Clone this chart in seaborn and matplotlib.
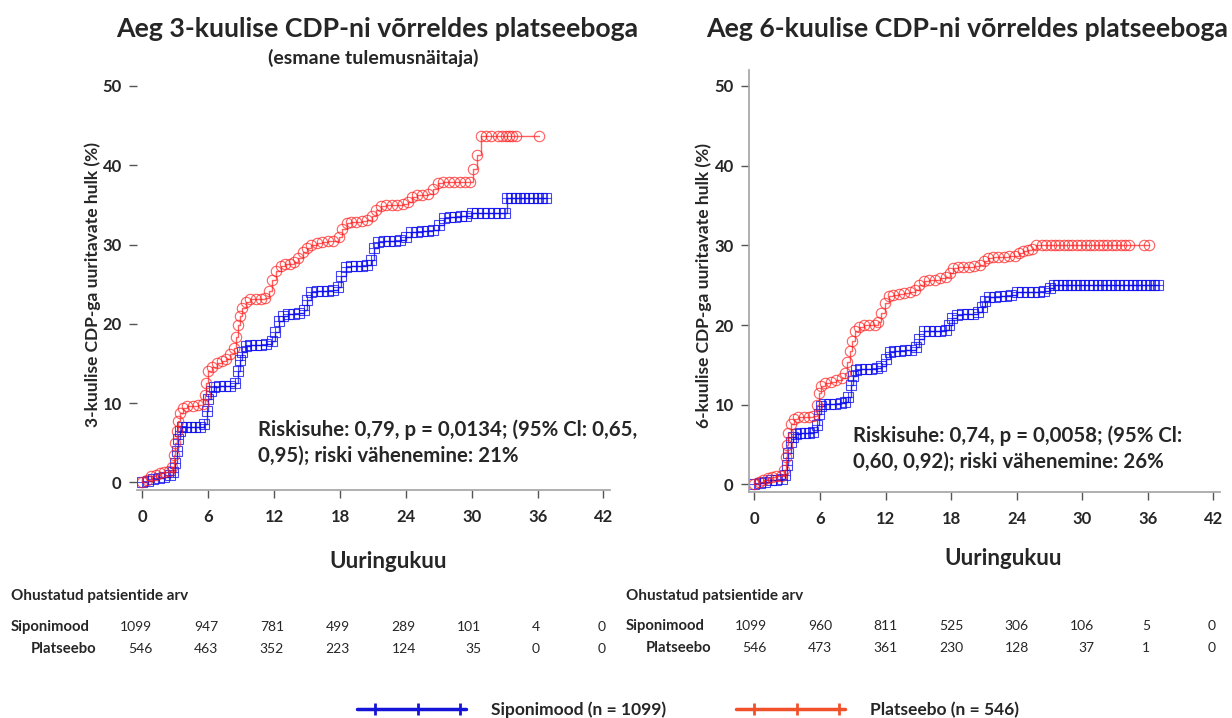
import numpy as np
import pandas as pd
import matplotlib
matplotlib.use("Agg")
import matplotlib.pyplot as plt
import matplotlib.transforms as mtrans
from matplotlib.lines import Line2D
from matplotlib.legend_handler import HandlerLine2D
import seaborn as sns

# ---------------- data ----------------
months_ticks = [0, 6, 12, 18, 24, 30, 36, 42]

sip3_t = [0, 0.5, 1, 1.5, 2, 2.5, 2.8, 3.0, 3.1, 3.2, 3.4, 3.6, 4.0, 4.4, 4.8, 5.2, 5.6, 5.9, 6.0, 6.2,
          6.5, 7.0, 7.5, 8.0, 8.4, 8.7, 8.9, 9.1, 9.4, 9.8, 10.3, 10.8, 11.3, 11.8, 12.1, 12.4, 12.8, 13.3,
          13.8, 14.3, 14.7, 15.0, 15.4, 15.9, 16.4, 16.9, 17.4, 17.8, 18.1, 18.5, 19.0, 19.5, 20.0, 20.5,
          20.8, 21.1, 21.5, 22.0, 22.5, 23.0, 23.5, 24.0, 24.5, 25.0, 25.5, 26.0, 26.5, 27.0, 27.5, 28.0,
          28.5, 29.0, 29.5, 30.0, 30.5, 31.0, 31.5, 32.0, 32.5, 33.0, 33.2, 33.6, 34.0, 34.4, 34.8, 35.2,
          35.6, 36.0, 36.4, 36.8]
sip3_v = [0, 0.2, 0.4, 0.6, 0.7, 0.9, 1.3, 2.5, 4.0, 5.5, 6.5, 7.0, 7.0, 7.0, 7.0, 7.0, 7.4, 9.0, 10.5, 11.5,
          12.0, 12.1, 12.2, 12.2, 12.6, 14.0, 15.5, 16.5, 17.2, 17.3, 17.3, 17.3, 17.4, 17.8, 19.0, 20.3, 21.0, 21.2,
          21.3, 21.4, 21.8, 23.0, 24.0, 24.1, 24.2, 24.2, 24.3, 24.6, 26.0, 27.2, 27.3, 27.3, 27.3, 27.4,
          28.0, 29.5, 30.3, 30.4, 30.5, 30.5, 30.6, 31.0, 31.6, 31.6, 31.7, 31.7, 31.8, 32.5, 33.4, 33.5,
          33.5, 33.6, 33.6, 34.0, 34.0, 34.0, 34.0, 34.0, 34.0, 34.0, 35.9, 35.9, 35.9, 35.9, 35.9, 35.9,
          35.9, 35.9, 35.9, 35.9]

pla3_t = [0, 0.4, 0.8, 1.2, 1.6, 2.0, 2.4, 2.7, 2.9, 3.0, 3.1, 3.2, 3.4, 3.7, 4.1, 4.6, 5.1, 5.5, 5.7, 5.8,
          6.0, 6.3, 6.8, 7.2, 7.6, 8.0, 8.3, 8.5, 8.7, 8.9, 9.1, 9.4, 9.8, 10.3, 10.8, 11.2, 11.5, 11.8, 12.2,
          12.6, 13.0, 13.4, 13.8, 14.2, 14.6, 15.0, 15.4, 15.9, 16.4, 16.9, 17.4, 17.9, 18.2, 18.6, 19.0,
          19.5, 20.0, 20.5, 20.9, 21.3, 21.7, 22.2, 22.7, 23.2, 23.7, 24.2, 24.6, 25.0, 25.5, 26.0, 26.5,
          26.9, 27.4, 27.9, 28.4, 28.9, 29.4, 29.8, 30.1, 30.5, 30.8, 31.3, 31.8, 32.4, 32.8, 33.1, 33.4,
          33.7, 34.0, 36.1]
pla3_v = [0, 0.3, 0.8, 1.0, 1.2, 1.3, 1.4, 2.0, 3.5, 5.0, 6.5, 7.8, 8.8, 9.4, 9.6, 9.7, 9.8, 9.9, 11.0, 12.5,
          14.0, 14.6, 15.0, 15.3, 15.6, 16.2, 17.0, 18.3, 19.8, 21.0, 22.0, 22.8, 23.1, 23.1, 23.1, 23.3, 24.2, 25.5, 26.7,
          27.3, 27.5, 27.6, 27.8, 28.3, 29.0, 29.6, 30.0, 30.2, 30.3, 30.4, 30.5, 31.0, 32.0, 32.7, 32.8,
          32.9, 33.0, 33.1, 33.6, 34.4, 34.9, 35.0, 35.0, 35.0, 35.1, 35.3, 36.0, 36.3, 36.3, 36.4, 37.0,
          37.8, 37.9, 37.9, 37.9, 37.9, 37.9, 37.9, 39.5, 41.3, 43.7, 43.7, 43.7, 43.7, 43.7, 43.7, 43.7,
          43.7, 43.7, 43.7]

sip6_t = [0, 0.5, 1, 1.5, 2, 2.5, 2.8, 3.0, 3.1, 3.3, 3.5, 3.8, 4.2, 4.6, 5.0, 5.4, 5.7, 5.9, 6.1, 6.4,
          6.9, 7.4, 7.9, 8.3, 8.6, 8.8, 9.0, 9.3, 9.7, 10.2, 10.7, 11.2, 11.6, 12.0, 12.4, 12.8, 13.3, 13.8,
          14.3, 14.8, 15.1, 15.5, 16.0, 16.5, 17.0, 17.5, 17.8, 18.1, 18.5, 19.0, 19.5, 20.0, 20.5, 20.8,
          21.1, 21.5, 22.0, 22.5, 23.0, 23.5, 24.0, 24.5, 25.0, 25.5, 26.0, 26.5, 27.0, 27.4, 27.8, 28.2,
          28.6, 29.0, 29.4, 29.8, 30.2, 30.6, 31.0, 31.4, 31.8, 32.2, 32.6, 33.0, 33.4, 33.8, 34.2, 34.6,
          35.0, 35.4, 35.8, 36.2, 36.6, 36.9]
sip6_v = [0, 0.2, 0.3, 0.5, 0.6, 0.7, 1.2, 2.5, 4.0, 5.3, 6.0, 6.3, 6.4, 6.4, 6.4, 6.6, 7.5, 8.8, 9.8, 10.1,
          10.1, 10.1, 10.2, 10.3, 11.0, 12.5, 13.6, 14.3, 14.5, 14.5, 14.5, 14.6, 14.8, 15.8, 16.6, 16.8, 16.8, 16.9,
          16.9, 17.2, 18.2, 19.2, 19.3, 19.3, 19.3, 19.4, 20.0, 20.9, 21.3, 21.4, 21.4, 21.4, 21.6, 22.3,
          23.0, 23.5, 23.5, 23.6, 23.6, 23.8, 24.1, 24.1, 24.1, 24.2, 24.2, 24.3, 24.6, 25.0, 25.0, 25.0,
          25.0, 25.0, 25.0, 25.0, 25.0, 25.0, 25.0, 25.0, 25.0, 25.0, 25.0, 25.0, 25.0, 25.0, 25.0, 25.0,
          25.0, 25.0, 25.0, 25.0, 25.0, 25.0]

pla6_t = [0, 0.4, 0.8, 1.2, 1.6, 2.0, 2.4, 2.7, 2.9, 3.0, 3.1, 3.3, 3.6, 4.0, 4.5, 5.0, 5.4, 5.7, 5.9, 6.1,
          6.5, 7.0, 7.5, 8.0, 8.3, 8.5, 8.7, 8.9, 9.2, 9.6, 10.0, 10.5, 11.0, 11.3, 11.6, 11.9, 12.3, 12.7,
          13.2, 13.7, 14.2, 14.7, 15.1, 15.5, 16.0, 16.5, 17.0, 17.5, 17.9, 18.2, 18.6, 19.1, 19.6, 20.1,
          20.6, 21.0, 21.4, 21.8, 22.3, 22.8, 23.3, 23.8, 24.2, 24.6, 25.0, 25.4, 25.8, 26.3, 26.7, 27.1,
          27.5, 27.9, 28.3, 28.7, 29.1, 29.5, 29.9, 30.3, 30.7, 31.1, 31.5, 31.9, 32.3, 32.7, 33.1, 33.5,
          33.9, 34.3, 35.6, 36.1]
pla6_v = [0, 0.3, 0.6, 0.8, 0.9, 1.0, 1.1, 1.8, 3.5, 5.0, 6.5, 7.6, 8.2, 8.4, 8.4, 8.5, 8.6, 10.0, 11.5, 12.4,
          12.7, 12.9, 13.1, 13.4, 14.0, 15.3, 16.8, 18.0, 19.2, 19.8, 20.0, 20.0, 20.0, 20.4, 21.5, 22.8, 23.6, 23.8,
          23.9, 24.0, 24.1, 24.4, 25.0, 25.5, 25.6, 25.7, 25.9, 26.0, 26.5, 27.2, 27.3, 27.3, 27.3, 27.4,
          27.5, 28.0, 28.4, 28.5, 28.5, 28.5, 28.6, 28.7, 29.0, 29.3, 29.4, 29.5, 30.0, 30.0, 30.0, 30.0,
          30.0, 30.0, 30.0, 30.0, 30.0, 30.0, 30.0, 30.0, 30.0, 30.0, 30.0, 30.0, 30.0, 30.0, 30.0, 30.0,
          30.0, 30.0, 30.0, 30.0]

risk_sip3 = [1099, 947, 781, 499, 289, 101, 4, 0]
risk_pla3 = [546, 463, 352, 223, 124, 35, 0, 0]
risk_sip6 = [1099, 960, 811, 525, 306, 106, 5, 0]
risk_pla6 = [546, 473, 361, 230, 128, 37, 1, 0]

titles = ["Aeg 3-kuulise CDP-ni võrreldes platseeboga", "Aeg 6-kuulise CDP-ni võrreldes platseeboga"]
subtitle = "(esmane tulemusnäitaja)"
ylabels = ["3-kuulise CDP-ga uuritavate hulk (%)", "6-kuulise CDP-ga uuritavate hulk (%)"]
xlabel = "Uuringukuu"
annots = ["Riskisuhe: 0,79, p = 0,0134; (95% Cl: 0,65,\n0,95); riski vähenemine: 21%",
          "Riskisuhe: 0,74, p = 0,0058; (95% Cl:\n0,60, 0,92); riski vähenemine: 26%"]
risk_title = "Ohustatud patsientide arv"
group_names = ["Siponimood", "Platseebo"]
legend_labels = ["Siponimood (n = 1099)", "Platseebo (n = 546)"]

# ---------------- style ----------------
sns.set_theme(style="white")
FONT = ["Lato", "DejaVu Sans"]
plt.rcParams["font.family"] = FONT
plt.rcParams["font.weight"] = "bold"

BLUE = "#0a0af0"
RED = "#ff1a1a"

W, H = 1232, 718
fig = plt.figure(figsize=(W / 100, H / 100), dpi=100)


def px_axes(x0, y0, x1, y1):
    return fig.add_axes([x0 / W, 1 - y1 / H, (x1 - x0) / W, (y1 - y0) / H])


ax1 = px_axes(137, 70, 610, 490)
ax2 = px_axes(749, 70, 1220, 492)


def draw_curve(ax, t, v, color, kind):
    df = pd.DataFrame({"t": t, "v": v})
    if kind == "sip":
        sns.lineplot(data=df, x="t", y="v", ax=ax, estimator=None, sort=False,
                     drawstyle="steps-post", color=color, lw=1.0, marker="s", markersize=6.5,
                     markerfacecolor="none", markeredgecolor=color, markeredgewidth=0.8, alpha=0.75)
        sns.lineplot(data=df, x="t", y="v", ax=ax, estimator=None, sort=False,
                     drawstyle="steps-post", color=color, lw=0, marker="+", markersize=6.5,
                     markeredgecolor=color, markeredgewidth=0.8, alpha=0.7)
    else:
        sns.lineplot(data=df, x="t", y="v", ax=ax, estimator=None, sort=False,
                     drawstyle="steps-post", color=color, lw=1.0, marker="o", markersize=7.5,
                     markerfacecolor="none", markeredgecolor=color, markeredgewidth=0.8, alpha=0.7)


draw_curve(ax1, sip3_t, sip3_v, BLUE, "sip")
draw_curve(ax1, pla3_t, pla3_v, RED, "pla")
draw_curve(ax2, sip6_t, sip6_v, BLUE, "sip")
draw_curve(ax2, pla6_t, pla6_v, RED, "pla")

ylab_x = [-0.076, -0.078]
xlab_pos = [(0.53, -0.145), (0.539, -0.133)]
for i, ax in enumerate([ax1, ax2]):
    ax.set_xlim(-0.5, 42.6)
    ax.set_ylim(-0.95, 52.0)
    ax.set_xticks(months_ticks)
    ax.set_yticks([0, 10, 20, 30, 40, 50])
    ax.tick_params(axis="both", which="both", direction="out", length=6, width=1,
                   color="#555555", labelsize=12, pad=5, bottom=True, left=True)
    for lab in ax.get_xticklabels() + ax.get_yticklabels():
        lab.set_fontweight("bold")
    ax.tick_params(axis="x", pad=8)
    ax.spines["top"].set_visible(False)
    ax.spines["right"].set_visible(False)
    ax.spines["bottom"].set_color("#a6a6a6")
    ax.spines["left"].set_color("#a6a6a6")
    ax.spines["left"].set_visible(i == 1)
    ax.set_xlabel(xlabel, fontsize=16, fontweight="bold")
    ax.set_ylabel(ylabels[i], fontsize=12.5, fontweight="bold")
    ax.yaxis.set_label_coords(ylab_x[i], 0.49)
    ax.xaxis.set_label_coords(*xlab_pos[i])
    ax.set_facecolor("white")

ax1.text(0.256, 0.114, annots[0], transform=ax1.transAxes, fontsize=14.7, fontweight="bold",
         ha="left", va="center", linespacing=1.35)
ax2.text(0.221, 0.103, annots[1], transform=ax2.transAxes, fontsize=14.7, fontweight="bold",
         ha="left", va="center", linespacing=1.35)

# titles
fig.text(377 / W, 1 - 29 / H, titles[0], fontsize=19.2, fontweight="bold", ha="center", va="center")
fig.text(373 / W, 1 - 58 / H, subtitle, fontsize=14, fontweight="bold", ha="center", va="center")
fig.text(967 / W, 1 - 29 / H, titles[1], fontsize=19.2, fontweight="bold", ha="center", va="center")


# risk tables
def risk_table(ax, x_row_px, y_title, y_rows, sip, pla, off):
    fig.text(x_row_px / W, 1 - y_title / H, risk_title, fontsize=11, fontweight="bold",
             ha="left", va="center")
    fig.text(x_row_px / W, 1 - y_rows[0] / H, group_names[0], fontsize=10.7, fontweight="bold",
             ha="left", va="center")
    fig.text((x_row_px + 20) / W, 1 - y_rows[1] / H, group_names[1], fontsize=10.7, fontweight="bold",
             ha="left", va="center")
    tr = mtrans.blended_transform_factory(ax.transData, fig.transFigure)
    for m, a, b in zip(months_ticks, sip, pla):
        if m < 36:
            xm, ha = m + off, "right"
        else:
            xm, ha = m - 0.15, "center"
        fig.text(xm, 1 - y_rows[0] / H, str(a), transform=tr, fontsize=10, fontweight="normal",
                 ha=ha, va="center")
        fig.text(xm, 1 - y_rows[1] / H, str(b), transform=tr, fontsize=10, fontweight="normal",
                 ha=ha, va="center")


risk_table(ax1, 11, 596, (627, 649), risk_sip3, risk_pla3, 0.9)
risk_table(ax2, 626, 596, (626, 648), risk_sip6, risk_pla6, 1.1)


# legend with inset tick markers
class TickLineHandler(HandlerLine2D):
    def create_artists(self, legend, orig_handle, xdescent, ydescent, width, height,
                       fontsize, trans):
        y = height / 2 - ydescent
        x0, x1 = -xdescent, width - xdescent
        line = Line2D([x0, x1], [y, y])
        self.update_prop(line, orig_handle, legend)
        line.set_marker("None")
        fr = [0.17, 0.557, 0.943]
        xm = [x0 + f * (x1 - x0) for f in fr]
        mk = Line2D(xm, [y] * len(xm))
        self.update_prop(mk, orig_handle, legend)
        mk.set_linestyle("None")
        line.set_transform(trans)
        mk.set_transform(trans)
        return [line, mk]


handles = [Line2D([0], [0], color="#1414d8", lw=2.5, marker="|", markersize=9, mew=2),
           Line2D([0], [0], color="#f0502a", lw=2.5, marker="|", markersize=9, mew=2)]
leg = fig.legend(handles, legend_labels, loc="center", bbox_to_anchor=(688 / W, 1 - 710 / H),
                 ncol=2, frameon=False, handlelength=6.3, handletextpad=1.45,
                 columnspacing=4.0, prop={"family": FONT, "weight": "bold", "size": 12.5},
                 handler_map={h: TickLineHandler() for h in handles})

fig.savefig("out.png", dpi=100, facecolor="white")
